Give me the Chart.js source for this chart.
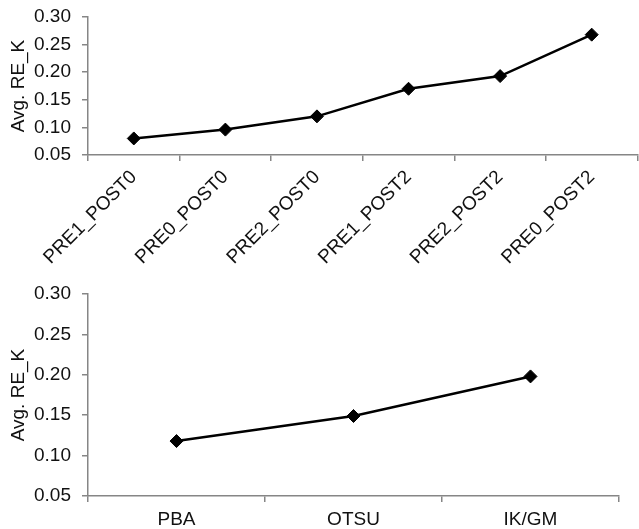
<!DOCTYPE html>
<html><head><meta charset="utf-8">
<script src="https://cdn.jsdelivr.net/npm/chart.js@4/dist/chart.umd.min.js"></script>
<style>
html,body{margin:0;padding:0;background:#fff;overflow:hidden;width:639px;height:529px;}
#w1{position:absolute;left:0;top:0;width:645px;height:280px;}
#w2{position:absolute;left:0;top:280px;width:639px;height:249px;}
</style></head><body>
<div id="w1"><canvas id="c1"></canvas></div>
<div id="w2"><canvas id="c2"></canvas></div>
<script>
const topCategories = ['PRE1_POST0','PRE0_POST0','PRE2_POST0','PRE1_POST2','PRE2_POST2','PRE0_POST2'];
const topValues = [0.080, 0.096, 0.120, 0.170, 0.193, 0.268];
const bottomCategories = ['PBA','OTSU','IK/GM'];
const bottomValues = [0.118, 0.149, 0.198];
const yTicks = [0.05, 0.10, 0.15, 0.20, 0.25, 0.30];
const yTitle = 'Avg. RE_K';

const FONT = '"Liberation Sans", Arial, sans-serif';
const AXIS = '#868686';

function makeChart(id, labels, values, cfg) {
  return new Chart(document.getElementById(id), {
    type: 'line',
    data: {
      labels: labels,
      datasets: [{
        data: values,
        borderColor: '#000',
        backgroundColor: '#000',
        borderWidth: 2.5,
        pointStyle: 'rectRot',
        pointRadius: 6.5,
        pointBorderWidth: 1,
        pointBackgroundColor: '#000',
        pointBorderColor: '#000',
        tension: 0,
        fill: false
      }]
    },
    options: {
      responsive: true,
      maintainAspectRatio: false,
      animation: false,
      events: [],
      layout: { padding: cfg.padding },
      plugins: { legend: { display: false }, tooltip: { enabled: false } },
      scales: {
        x: {
          type: 'category',
          offset: true,
          grid: { offset: true, drawOnChartArea: false, drawTicks: true, tickLength: 6, color: AXIS, lineWidth: 1.5 },
          border: { color: AXIS, width: 1.5 },
          ticks: {
            color: '#111',
            font: { family: FONT, size: 19 },
            minRotation: cfg.rot, maxRotation: cfg.rot,
            padding: cfg.xpad,
            autoSkip: false
          },
          afterFit: s => { s.height = cfg.xh; s.paddingLeft = 0; s.paddingRight = 0; }
        },
        y: {
          min: 0.05, max: 0.30,
          afterBuildTicks: s => { s.ticks = yTicks.map(v => ({ value: v })); },
          grid: { drawOnChartArea: false, drawTicks: true, tickLength: 6, color: AXIS, lineWidth: 1.5 },
          border: { color: AXIS, width: 1.5 },
          ticks: {
            color: '#111',
            font: { family: FONT, size: 19 },
            padding: 11,
            callback: v => Number(v).toFixed(2)
          },
          title: {
            display: true, text: yTitle, color: '#111',
            font: { family: FONT, size: 19 },
            padding: { top: 7, bottom: 0 }
          },
          afterFit: s => { s.width = 88; s.paddingTop = 0; s.paddingBottom = 0; }
        }
      }
    }
  });
}

makeChart('c1', topCategories, topValues, { padding: { top: 17, right: 3, left: 0, bottom: 0 }, rot: 45, xpad: 5, xh: 125 });
makeChart('c2', bottomCategories, bottomValues, { padding: { top: 14, right: 20, left: 0, bottom: 0 }, rot: 0, xpad: 6, xh: 33 });
</script>
</body></html>
